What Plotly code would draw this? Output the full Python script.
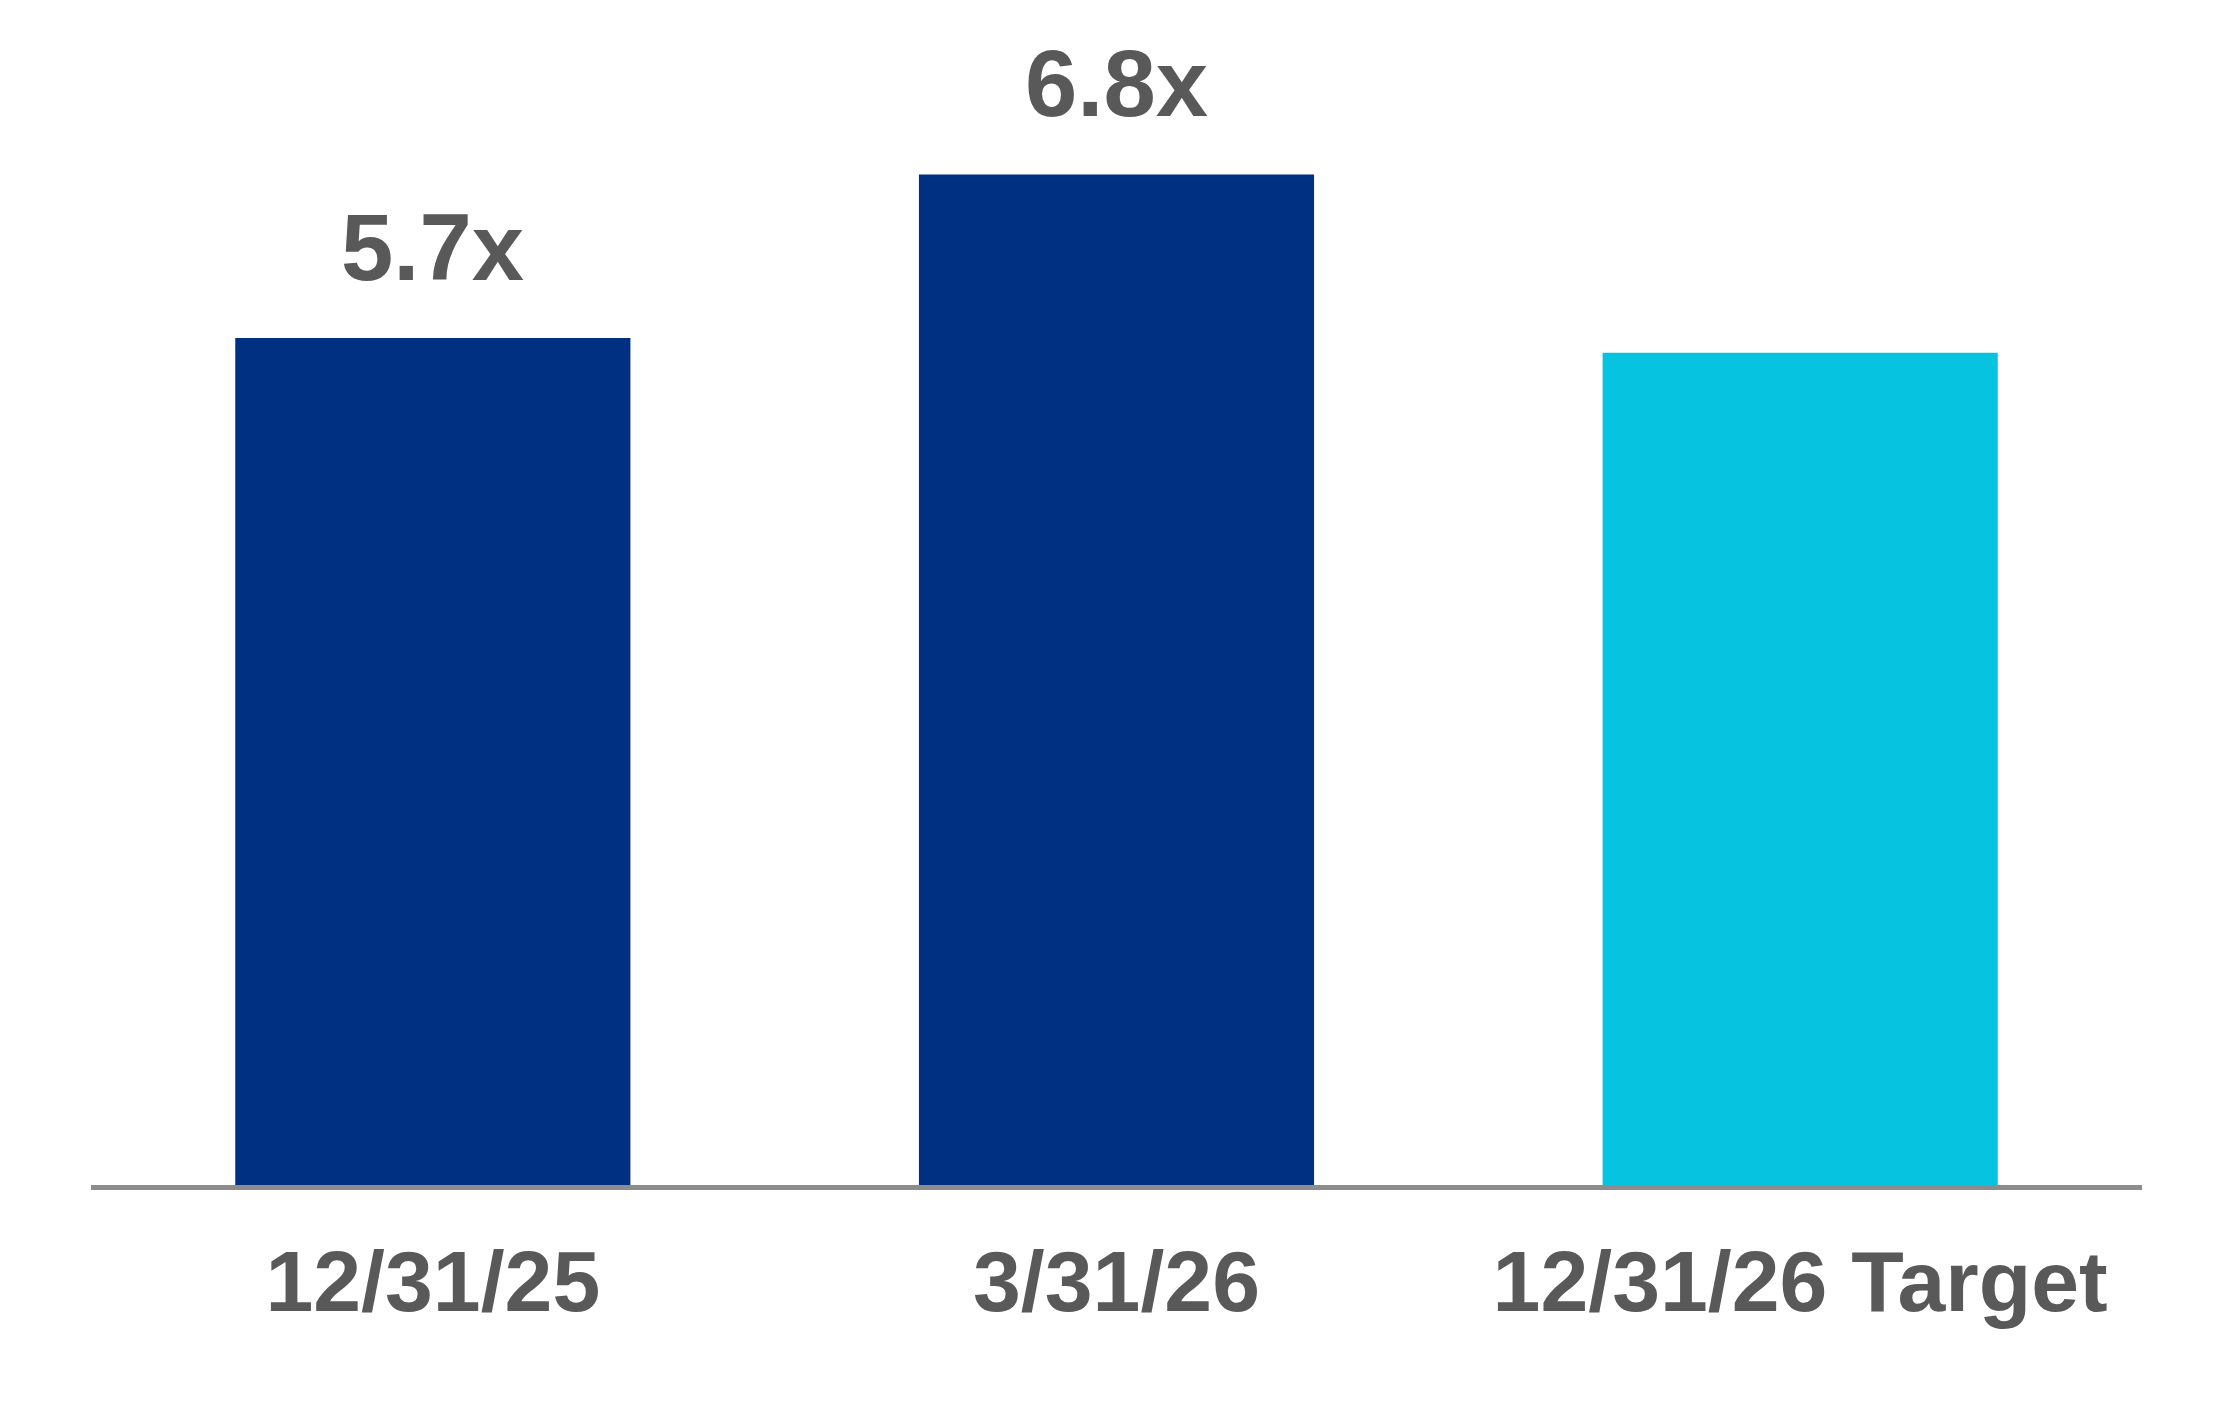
import plotly.graph_objects as go

# data
periods = ["12/31/25", "3/31/26", "12/31/26 Target"]
leverage = [5.7, 6.8, 5.6]
value_labels = ["5.7x", "6.8x", ""]
bar_colors = ["#003082", "#003082", "#06C3DF"]

FONT = "Liberation Sans"

fig = go.Figure()

fig.add_trace(
	go.Bar(
		x=periods,
		y=leverage,
		marker_color=bar_colors,
		marker_line_width=0,
		hoverinfo='skip',
	)
)

# value labels above the actual bars (target bar has none)
for p, v, t in zip(periods, leverage, value_labels):
	if t:
		fig.add_annotation(
			x=p, y=v,
			text="<b>" + t + "</b>",
			showarrow=False,
			yanchor='bottom',
			yshift=36,
			font=dict(family=FONT, size=94, color="#595959"),
		)

# page has an 8px body margin, so the figure is sized to fit the window
fig.update_layout(
	width=2216, height=1406,
	margin=dict(l=83, r=82, t=0, b=229),
	paper_bgcolor="white",
	plot_bgcolor="white",
	bargap=0.422,
	showlegend=False,
	font=dict(family=FONT, color="#595959"),
)

fig.update_xaxes(
	showline=True,
	linecolor="#8C8C8C",
	linewidth=5,
	showgrid=False,
	ticks="",
	ticklabelstandoff=18,
	tickfont=dict(family=FONT, size=86, color="#595959", weight="bold"),
)
fig.update_yaxes(
	range=[0, 7.92],
	visible=False,
	showgrid=False,
	zeroline=False,
)

fig.write_html("out.html")
